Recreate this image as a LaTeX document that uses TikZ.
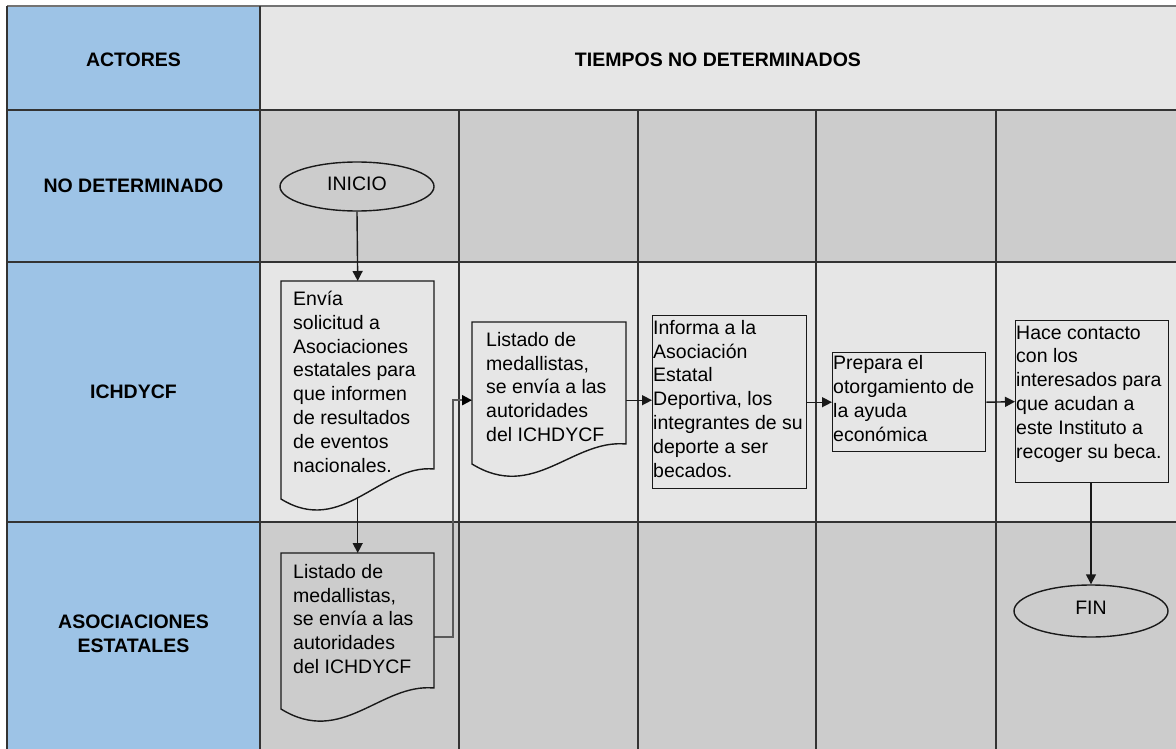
\documentclass[tikz,border=0pt]{standalone}
\usepackage{fontspec}
\setmainfont{Liberation Sans}
\usetikzlibrary{arrows.meta,shapes.geometric,calc}
\definecolor{lanecol}{HTML}{9DC3E6}
\definecolor{lightg}{HTML}{E6E6E6}
\definecolor{midg}{HTML}{CCCCCC}
\pgfdeclarelayer{bg}
\pgfdeclarelayer{conn}
\pgfsetlayers{bg,conn,main}
\newcommand\docoutline[6]{%
  \draw[shp, fill=#6] (#1,#3) -- (#2,#3) -- (#2,#4)
    .. controls ({#2-0.35*(#2-#1)},{#4-5}) and ({#1+0.4*(#2-#1)},{#5+38}) .. (#1,#5) -- cycle;}
\begin{document}
\begin{tikzpicture}[x=1pt,y=-1pt,
  gridline/.style={draw=black!80, line width=1.8pt},
  lbl/.style={font=\fontsize{19.5}{23.5}\selectfont\bfseries, align=center, inner sep=0, text=black},
  txt/.style={font=\fontsize{19.5}{23.8}\selectfont, align=left, inner sep=0, anchor=north west, text=black},
  shp/.style={draw=black!90, line width=1.4pt},
  ghost/.style={inner sep=0, anchor=north west},
  conn/.style={draw=black!90, line width=1.4pt},
  arr/.style={conn, -{Triangle[length=10pt,width=10pt]}},
  arrg/.style={draw=black!65, line width=2pt, -{Triangle[length=10pt,width=10pt,color=black]}},
  term/.style={ellipse, shp, fill=midg, minimum width=154pt, inner sep=0, font=\fontsize{19.5}{23.5}\selectfont, text=black},
]
\useasboundingbox (0,0) rectangle (1176,749);
\begin{pgfonlayer}{bg}
  \fill[white] (0,0) rectangle (1176,749);
  \fill[lanecol] (7,7) rectangle (260,749);
  \fill[lightg] (260,7) rectangle (1176,110);
  \fill[midg] (260,110) rectangle (1176,262);
  \fill[lightg] (260,262) rectangle (1176,522);
  \fill[midg] (260,522) rectangle (1176,749);
  \draw[draw=black!55, line width=2pt] (7,6) -- (1176,6);
  \draw[gridline] (7,110) -- (1176,110);
  \draw[gridline] (7,262) -- (1176,262);
  \draw[gridline] (7,522) -- (1176,522);
  \draw[gridline] (7,6) -- (7,749);
  \draw[gridline] (260,6) -- (260,749);
  \foreach \cx in {459,638,816,996} \draw[gridline] (\cx,110) -- (\cx,749);
\end{pgfonlayer}

% header and lane labels
\node[lbl] (hact) at (133.5,60) {ACTORES};
\node[lbl] (htime) at (718,60) {TIEMPOS NO DETERMINADOS};
\node[lbl] (lnd) at (133.5,186) {NO DETERMINADO};
\node[lbl] (lich) at (133.5,392) {ICHDYCF};
\node[lbl] (lasoc) at (133.5,634) {ASOCIACIONES\\ESTATALES};

% terminals
\node[term, minimum height=49pt] (ini) at (357,186.5) {\raisebox{6pt}{INICIO}};
\node[term, minimum height=52pt] (fin) at (1091,611) {\raisebox{7pt}{FIN}};

% documents
\docoutline{281}{434}{281}{469}{499}{lightg}
\node[ghost, minimum width=153pt, minimum height=218pt] (d1) at (281,281) {};
\node[txt] (d1t) at (293,291) {Envía\\solicitud a\\Asociaciones\\estatales para\\que informen\\de resultados\\de eventos\\nacionales.};

\docoutline{472}{626}{322}{444}{464}{lightg}
\node[ghost, minimum width=154pt, minimum height=142pt] (d2) at (472,322) {};
\node[txt] (d2t) at (486,332) {Listado de\\medallistas,\\se envía a las\\autoridades\\del ICHDYCF};

\docoutline{281}{434}{553}{688}{709}{midg}
\node[ghost, minimum width=153pt, minimum height=156pt] (d3) at (281,553) {};
\node[txt] (d3t) at (293,564) {Listado de\\medallistas,\\se envía a las\\autoridades\\del ICHDYCF};

% process boxes
\node[ghost, shp, fill=lightg, minimum width=154pt, minimum height=173pt] (b3) at (652,315) {};
\node[txt] (b3t) at (653,320) {Informa a la\\Asociación\\Estatal\\Deportiva, los\\integrantes de su\\deporte a ser\\becados.};
\node[ghost, shp, fill=lightg, minimum width=153pt, minimum height=99pt] (b4) at (832,352) {};
\node[txt] (b4t) at (833,355.5) {Prepara el\\otorgamiento de\\la ayuda\\económica};
\node[ghost, shp, fill=lightg, minimum width=153pt, minimum height=162pt] (b5) at (1015,320) {};
\node[txt] (b5t) at (1016,325.5) {Hace contacto\\con los\\interesados para\\que acudan a\\este Instituto a\\recoger su beca.};

% connectors
\coordinate (d2w) at ([yshift=-7pt]d2.west);
\coordinate (d2e) at ([yshift=-7pt]d2.east);
\coordinate (d3e) at ([yshift=-6pt]d3.east);
\begin{pgfonlayer}{conn}
  \draw[arr] (ini.south) -- (d1.north);
  \draw[arr] (d1.center) -- (d3.north);
  \draw[arrg] (d3e) -| ($(d2w)+(-19,0)$) -- (d2w);
  \draw[arr] (d2e) -- (d2e -| b3.west);
  \draw[arr] (b3.east) -- (b4.west);
  \draw[arr] (b4.east) -- (b5.west);
  \draw[arr] (b5.south -| fin.north) -- (fin.north);
\end{pgfonlayer}
\end{tikzpicture}
\end{document}
